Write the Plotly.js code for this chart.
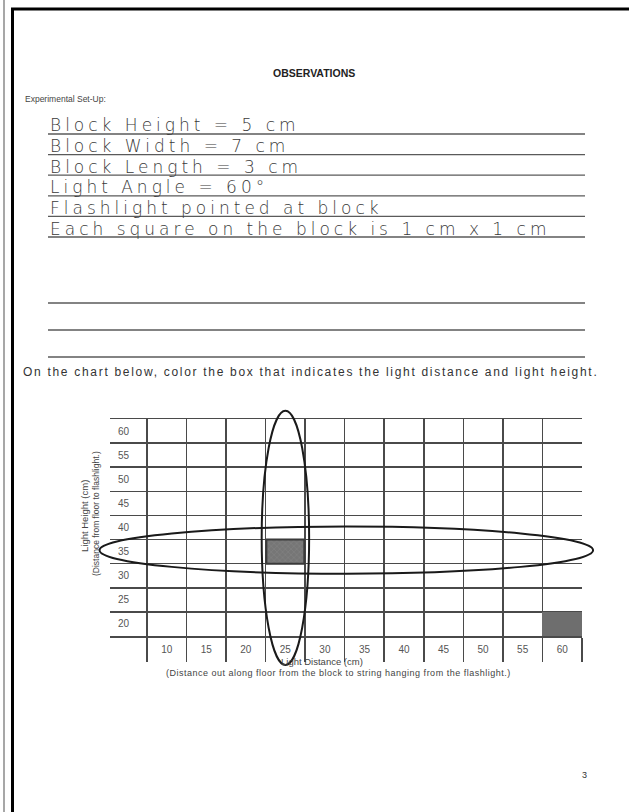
<!DOCTYPE html>
<html>
<head>
<meta charset="utf-8">
<script src="https://cdn.plot.ly/plotly-3.0.1.min.js"></script>
<style>
  html, body { margin: 0; padding: 0; background: #ffffff; }
  #chart { width: 629px; height: 812px; }
</style>
</head>
<body>
<div id="chart"></div>
<script>
// ---------------- data ----------------
const distances = [10, 15, 20, 25, 30, 35, 40, 45, 50, 55, 60];      // Light Distance (cm)
const heights   = [20, 25, 30, 35, 40, 45, 50, 55, 60];              // Light Height (cm)
const distanceLabels = ['10', '15', '20', '25', '30', '35', '40', '45', '50', '55', '60'];
const heightLabels   = ['20', '25', '30', '35', '40', '45', '50', '55', '60'];

const observedDistance = [25];   // coloured (hatched) box
const observedHeight   = [35];
const exampleDistance  = [60];   // solid grey box
const exampleHeight    = [20];
const cellSize = 5;

const pageTitle = 'OBSERVATIONS';
const setupHeading = 'Experimental Set-Up:';
const setupLines = [
  'Block Height = 5 cm',
  'Block Width = 7 cm',
  'Block Length = 3 cm',
  'Light Angle = 60°',
  'Flashlight pointed at block',
  'Each square on the block is 1 cm x 1 cm'
];
const blankLineCount = 3;
const instruction = 'On the chart below, color the box that indicates the light distance and light height.';
const yTitle = 'Light Height (cm)';
const ySubTitle = '(Distance from floor to flashlight.)';
const xTitle = 'Light Distance (cm)';
const xSubTitle = '(Distance out along floor from the block to string hanging from the flashlight.)';
const pageNumber = '3';

// ---------------- page geometry (pixels) ----------------
const W = 629, H = 812;
const px = v => v / W;
const py = v => 1 - v / H;

const half = cellSize / 2;
const labelColL = 110, gridL = 147, gridR = 582, gridT = 419, gridB = 636;
const xr = [distances[0] - half, distances[distances.length - 1] + half];   // grid cells
const yr = [heights[0] - half, heights[heights.length - 1] + half];
const pxPerX = (gridR - gridL) / (xr[1] - xr[0]);
const pxPerY = (gridB - gridT) / (yr[1] - yr[0]);
// plot area also holds the height-label column on its left
const xrPlot = [xr[0] - (gridL - labelColL) / pxPerX + 0.01, xr[1]];
// data -> paper (for the circling ellipses which run outside the plot area)
const dataX = v => px(gridL + (v - xr[0]) * pxPerX);
const dataY = v => py(gridB - (v - yr[0]) * pxPerY);

const gridColor = '#4a4a4a';
const baseFont = 'Liberation Sans, Arial, sans-serif';
const handFont = 'DejaVu Sans, sans-serif';
const spaced = (t, ls) => '<span style="letter-spacing:' + ls + 'px">' + t + '</span>';

// ---------------- traces ----------------
const traces = [
  {
    type: 'bar', x: exampleDistance, y: exampleHeight.map(() => cellSize),
    base: exampleHeight.map(h => h - half), width: cellSize,
    marker: { color: '#6e6e6e', line: { width: 0 } },
    hoverinfo: 'skip', showlegend: false
  },
  {
    type: 'bar', x: observedDistance, y: observedHeight.map(() => cellSize),
    base: observedHeight.map(h => h - half), width: cellSize * 0.96,
    marker: {
      color: '#767676',
      line: { width: 2, color: '#3a3a3a' },
      pattern: { shape: 'x', fillmode: 'overlay', fgcolor: '#8e8e8e', size: 4, solidity: 0.3 }
    },
    hoverinfo: 'skip', showlegend: false
  }
];

// ---------------- shapes ----------------
const shapes = [];
// page frame
shapes.push({ type: 'line', xref: 'paper', yref: 'paper', x0: px(4), x1: px(4), y0: 0, y1: 1, line: { color: '#8a8a8a', width: 1.5 } });
shapes.push({ type: 'line', xref: 'paper', yref: 'paper', x0: px(12.5), x1: px(12.5), y0: 0, y1: py(9), line: { color: '#000', width: 3 } });
shapes.push({ type: 'line', xref: 'paper', yref: 'paper', x0: px(11), x1: 1, y0: py(9), y1: py(9), line: { color: '#000', width: 3 } });
// ruled writing lines
const textRuleTop = 134, textRuleGap = 20.6;
const blankRuleTop = 303, blankRuleGap = 27;
const ruleYs = [];
setupLines.forEach((_, i) => ruleYs.push(textRuleTop + i * textRuleGap));
for (let i = 0; i < blankLineCount; i++) ruleYs.push(blankRuleTop + i * blankRuleGap);
ruleYs.forEach(y => {
  shapes.push({ type: 'line', xref: 'paper', yref: 'paper', x0: px(48), x1: px(585), y0: py(y), y1: py(y), line: { color: '#5a5a5a', width: 1.3 } });
});
// ellipses circling the answer column and row
const obsX = observedDistance[0], obsY = observedHeight[0];
shapes.push({ type: 'circle', xref: 'paper', yref: 'paper',
  x0: dataX(obsX - 3.0), x1: dataX(obsX + 3.0), y0: dataY(yr[0] - 6.0), y1: dataY(yr[1] + 1.7),
  line: { color: '#1a1a1a', width: 2 } });
shapes.push({ type: 'circle', xref: 'paper', yref: 'paper',
  x0: dataX(xr[0] - 6.0), x1: dataX(xr[1] + 1.4), y0: dataY(obsY - 4.6), y1: dataY(obsY + 5.2),
  line: { color: '#1a1a1a', width: 2 } });

// ---------------- annotations ----------------
const ann = [];
ann.push({ text: '<b>' + pageTitle + '</b>', xref: 'paper', yref: 'paper', x: px(314), y: py(73), xanchor: 'center', yanchor: 'middle', showarrow: false, font: { family: baseFont, size: 10.5, color: '#222' } });
ann.push({ text: setupHeading, xref: 'paper', yref: 'paper', x: px(23), y: py(99), xanchor: 'left', yanchor: 'middle', showarrow: false, font: { family: baseFont, size: 8.5, color: '#444' } });
setupLines.forEach((t, i) => {
  const y = ruleYs[i];
  ann.push({ text: spaced(t, 4), xref: 'paper', yref: 'paper', x: px(49), y: py(y - 8.5), xanchor: 'left', yanchor: 'middle', showarrow: false, borderpad: 0, font: { family: handFont, size: 17, weight: 300, color: '#3a3a3a' } });
});
ann.push({ text: spaced(instruction, 1.7), xref: 'paper', yref: 'paper', x: px(21), y: py(372), xanchor: 'left', yanchor: 'middle', showarrow: false, font: { family: baseFont, size: 12, color: '#333' } });
ann.push({ text: yTitle, xref: 'paper', yref: 'paper', x: px(84), y: py(516), textangle: -90, xanchor: 'center', yanchor: 'middle', showarrow: false, font: { family: baseFont, size: 9.5, color: '#444' } });
ann.push({ text: ySubTitle, xref: 'paper', yref: 'paper', x: px(96), y: py(514), textangle: -90, xanchor: 'center', yanchor: 'middle', showarrow: false, font: { family: baseFont, size: 8.5, color: '#444' } });
ann.push({ text: xTitle, xref: 'paper', yref: 'paper', x: px(322), y: py(661), xanchor: 'center', yanchor: 'middle', showarrow: false, font: { family: baseFont, size: 9.5, color: '#444' } });
ann.push({ text: spaced(xSubTitle, 0.5), xref: 'paper', yref: 'paper', x: px(338), y: py(673), xanchor: 'center', yanchor: 'middle', showarrow: false, font: { family: baseFont, size: 9, color: '#444' } });
ann.push({ text: pageNumber, xref: 'paper', yref: 'paper', x: px(584), y: py(775), xanchor: 'center', yanchor: 'middle', showarrow: false, font: { family: baseFont, size: 9, color: '#333' } });

// ---------------- layout ----------------
const minorGrid = (t0, len) => ({ tickmode: 'linear', tick0: t0, dtick: cellSize, ticks: len ? 'outside' : '', ticklen: len || 0, tickwidth: 1.5, tickcolor: gridColor, showgrid: true, gridcolor: gridColor, gridwidth: 1.5 });
const layout = {
  width: W, height: H,
  margin: { l: 0, r: 0, t: 0, b: 0, pad: 0 },
  paper_bgcolor: '#ffffff', plot_bgcolor: 'rgba(0,0,0,0)',
  barmode: 'overlay', bargap: 0,
  showlegend: false, hovermode: false,
  xaxis: {
    domain: [px(labelColL), px(gridR)], range: xrPlot,
    tickmode: 'array', tickvals: distances, ticktext: distanceLabels,
    ticks: '', showgrid: false, zeroline: false,
    showline: true, mirror: true, linecolor: gridColor, linewidth: 1.5,
    tickfont: { family: baseFont, size: 10, color: '#555' },
    ticklabelstandoff: 3,
    minor: minorGrid(xr[0], 24),
    fixedrange: true
  },
  yaxis: {
    domain: [py(gridB), py(gridT)], range: yr,
    tickmode: 'array', tickvals: heights, ticktext: heightLabels,
    ticks: '', showgrid: false, zeroline: false, showline: false,
    ticklabelposition: 'inside', ticklabelstandoff: 5,
    tickfont: { family: baseFont, size: 10, color: '#555' },
    minor: minorGrid(yr[0], 0),
    fixedrange: true
  },
  yaxis2: {
    overlaying: 'y', anchor: 'x', side: 'right', range: yr,
    showline: true, linecolor: gridColor, linewidth: 1.5,
    showgrid: false, zeroline: false, ticks: '', showticklabels: false, fixedrange: true
  },
  shapes: shapes,
  annotations: ann
};

Plotly.newPlot('chart', traces, layout, { staticPlot: true, displayModeBar: false });
</script>
</body>
</html>
